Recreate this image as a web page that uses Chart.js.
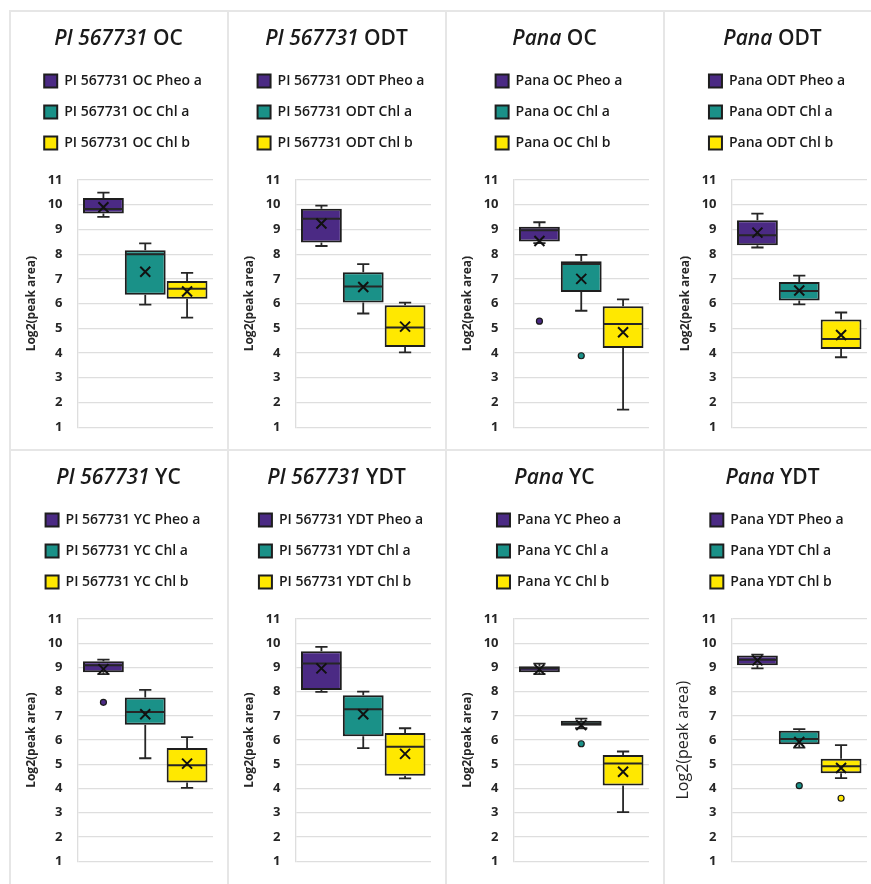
<!DOCTYPE html>
<html>
<head>
<meta charset="utf-8">
<script src="https://cdn.jsdelivr.net/npm/chart.js@4.4.1/dist/chart.umd.min.js"></script>
<style>
  html, body { margin: 0; padding: 0; background: #fff; }
  body { width: 871px; height: 884px; position: relative; overflow: hidden; font-family: 'Open Sans', sans-serif; }
  .panel { position: absolute; width: 218px; }
  .panel canvas { position: absolute; left: 0; top: 0; }
  .ttl { position: absolute; left: 0; top: 12px; width: 218px; text-align: center; font-size: 21px; line-height: 28px; font-weight: 600; color: #1a1a1a; white-space: nowrap; z-index: 2; }
  .ttl i { font-style: italic; }
  .rule { position: absolute; background: #e6e6e6; }
</style>
</head>
<body>
<script>
// Panels, left to right and top to bottom
const genotypes  = ['PI 567731', 'PI 567731', 'Pana', 'Pana', 'PI 567731', 'PI 567731', 'Pana', 'Pana'];
const conditions = ['OC', 'ODT', 'OC', 'ODT', 'YC', 'YDT', 'YC', 'YDT'];
const pigments   = ['Pheo a', 'Chl a', 'Chl b'];
const pigmentColors = ['#4b2a84', '#1a9188', '#ffe800'];

// Box-plot statistics, Log2(peak area), one row per panel: [Pheo a, Chl a, Chl b]
const whiskerLow = [
  [9.51, 5.96, 5.43], [8.33, 5.60, 4.03], [8.45, 5.71, 1.71], [8.27, 5.97, 3.83],
  [8.72, 5.25, 4.03], [7.99, 5.67, 4.42], [8.72, 6.49, 3.03], [8.96, 5.69, 4.43]
];
const quartile1 = [
  [9.64, 6.36, 6.20], [8.47, 6.04, 4.24], [8.51, 6.47, 4.20], [8.36, 6.13, 4.16],
  [8.80, 6.63, 4.25], [8.07, 6.16, 4.53], [8.80, 6.59, 4.13], [9.09, 5.83, 4.63]
];
const medians = [
  [9.83, 8.00, 6.60], [9.43, 6.69, 5.03], [8.97, 7.60, 5.17], [8.77, 6.51, 4.57],
  [9.09, 7.16, 4.96], [9.16, 7.27, 5.73], [8.96, 6.69, 5.03], [9.32, 6.05, 4.92]
];
const quartile3 = [
  [10.27, 8.16, 6.91], [9.84, 7.27, 5.93], [9.11, 7.71, 5.89], [9.37, 6.87, 5.36],
  [9.26, 7.76, 5.67], [9.67, 7.85, 6.29], [9.05, 6.80, 5.38], [9.49, 6.39, 5.23]
];
const whiskerHigh = [
  [10.49, 8.44, 7.24], [9.96, 7.60, 6.04], [9.29, 7.97, 6.17], [9.64, 7.13, 5.64],
  [9.32, 8.07, 6.12], [9.85, 8.00, 6.49], [9.16, 6.89, 5.53], [9.53, 6.45, 5.79]
];
const means = [
  [9.90, 7.29, 6.49], [9.24, 6.67, 5.07], [8.53, 7.00, 4.84], [8.87, 6.53, 4.73],
  [8.93, 7.07, 5.03], [8.96, 7.07, 5.43], [8.92, 6.62, 4.69], [9.29, 5.92, 4.85]
];
const outliers = [
  [[], [], []], [[], [], []], [[5.29], [3.89], []], [[], [], []],
  [[7.56], [], []], [[], [], []], [[], [5.85], []], [[], [4.12], [3.60]]
];
const yMin = 1, yMax = 11, yStep = 1;
const yTitle = 'Log2(peak area)';

Chart.defaults.font.family = "'Open Sans', sans-serif";

// Centre the stacked legend rows as one left-aligned block
const legendBlock = {
  id: 'legendBlock',
  afterUpdate(chart, args, opts) {
    const lg = chart.legend;
    if (!lg || !lg.lineWidths) return;
    const pad = lg.options.labels.padding;
    const widest = Math.max(...lg.lineWidths) - pad;
    const w = lg.right - lg.left;
    lg.left = opts.centerX - widest / 2 - pad;
    lg.right = lg.left + w;
  }
};

// Whiskers, caps, median line, mean cross and outlier dots on top of each box
const boxDecor = {
  id: 'boxDecor',
  afterDatasetsDraw(chart, args, opts) {
    const p = opts.panel;
    const ys = chart.scales.y;
    const ctx = chart.ctx;
    chart.data.datasets.forEach((ds, j) => {
      const bar = chart.getDatasetMeta(j).data[0];
      const x = bar.x, half = bar.width / 2, cap = bar.width * 0.15;
      const py = v => ys.getPixelForValue(v);
      ctx.save();
      ctx.strokeStyle = '#262626';
      ctx.lineWidth = 1.8;
      ctx.beginPath();
      ctx.moveTo(x, py(quartile3[p][j])); ctx.lineTo(x, py(whiskerHigh[p][j]));
      ctx.moveTo(x - cap, py(whiskerHigh[p][j])); ctx.lineTo(x + cap, py(whiskerHigh[p][j]));
      ctx.moveTo(x, py(quartile1[p][j])); ctx.lineTo(x, py(whiskerLow[p][j]));
      ctx.moveTo(x - cap, py(whiskerLow[p][j])); ctx.lineTo(x + cap, py(whiskerLow[p][j]));
      ctx.stroke();
      ctx.lineWidth = 2;
      ctx.beginPath();
      ctx.moveTo(x - half + 1, py(medians[p][j])); ctx.lineTo(x + half - 1, py(medians[p][j]));
      ctx.stroke();
      const m = 5, my = py(means[p][j]);
      ctx.lineWidth = 2;
      ctx.strokeStyle = '#111';
      ctx.beginPath();
      ctx.moveTo(x - m, my - m); ctx.lineTo(x + m, my + m);
      ctx.moveTo(x + m, my - m); ctx.lineTo(x - m, my + m);
      ctx.stroke();
      outliers[p][j].forEach(v => {
        ctx.beginPath();
        ctx.arc(x, py(v), 3, 0, Math.PI * 2);
        ctx.fillStyle = ds.backgroundColor;
        ctx.fill();
        ctx.lineWidth = 1.2;
        ctx.strokeStyle = '#1a1a1a';
        ctx.stroke();
      });
      ctx.restore();
    });
  }
};

const PANEL_W = 218;
const colLeft = [9.5, 227.5, 445.5, 663.5];
const rowTop = [11, 450];
const rowHeight = [439, 434];

// Panel frame lines
colLeft.forEach(x => {
  const d = document.createElement('div');
  d.className = 'rule';
  Object.assign(d.style, { left: (x - 1) + 'px', top: '10px', width: '2px', height: '880px' });
  document.body.appendChild(d);
});
[11, 449.5].forEach(y => {
  const d = document.createElement('div');
  d.className = 'rule';
  Object.assign(d.style, { left: '8.5px', top: (y - 1) + 'px', width: '870px', height: '2px' });
  document.body.appendChild(d);
});

genotypes.forEach((g, p) => {
  const col = p % 4, row = Math.floor(p / 4);
  const h = rowHeight[row];
  const panel = document.createElement('div');
  panel.className = 'panel';
  Object.assign(panel.style, { left: colLeft[col] + 'px', top: rowTop[row] + 'px', height: h + 'px' });
  const ttl = document.createElement('div');
  ttl.className = 'ttl';
  const it = document.createElement('i');
  it.textContent = g;
  ttl.appendChild(it);
  ttl.appendChild(document.createTextNode(' ' + conditions[p]));
  panel.appendChild(ttl);
  const cv = document.createElement('canvas');
  cv.width = PANEL_W; cv.height = h;
  cv.style.width = PANEL_W + 'px'; cv.style.height = h + 'px';
  panel.appendChild(cv);
  document.body.appendChild(panel);

  const bigLabel = p === 7;

  new Chart(cv, {
    type: 'bar',
    data: {
      labels: [''],
      datasets: pigments.map((s, j) => ({
        label: g + ' ' + conditions[p] + ' ' + s,
        data: [[quartile1[p][j], quartile3[p][j]]],
        backgroundColor: pigmentColors[j],
        borderColor: '#1e1e1e',
        borderWidth: 2,
        borderSkipped: false,
        categoryPercentage: 0.926,
        barPercentage: 0.976
      }))
    },
    options: {
      responsive: false,
      animation: false,
      events: [],
      layout: { padding: { left: 0, right: 15, top: 46, bottom: h - 419 } },
      scales: {
        x: { display: false },
        y: {
          min: yMin, max: yMax,
          ticks: { stepSize: yStep, padding: 15, color: '#262626', font: { size: 13, weight: 'bold' } },
          grid: { color: '#dedede', lineWidth: 1.3, drawTicks: false },
          border: { color: '#dedede', width: 1.3 },
          title: {
            display: true, text: yTitle, color: '#262626',
            font: bigLabel ? { size: 16, weight: 'normal' } : { size: 12, weight: 'bold' },
            padding: { top: bigLabel ? 10 : 14.8, bottom: 0 }
          },
          afterFit(scale) { scale.width = 67.5; }
        }
      },
      plugins: {
        legend: {
          position: 'top', align: 'start',
          labels: { boxWidth: 13, boxHeight: 13, padding: 17, color: '#1a1a1a', font: { size: 14, weight: '600' } }
        },
        // gap between the legend and the plotting area
        subtitle: { display: true, text: '', position: 'top', weight: 500, padding: { top: 10, bottom: 0 }, font: { size: 10, lineHeight: '10px' } },
        title: { display: false },
        tooltip: { enabled: false },
        legendBlock: { centerX: 113 },
        boxDecor: { panel: p }
      }
    },
    plugins: [legendBlock, boxDecor]
  });
});
</script>
</body>
</html>
